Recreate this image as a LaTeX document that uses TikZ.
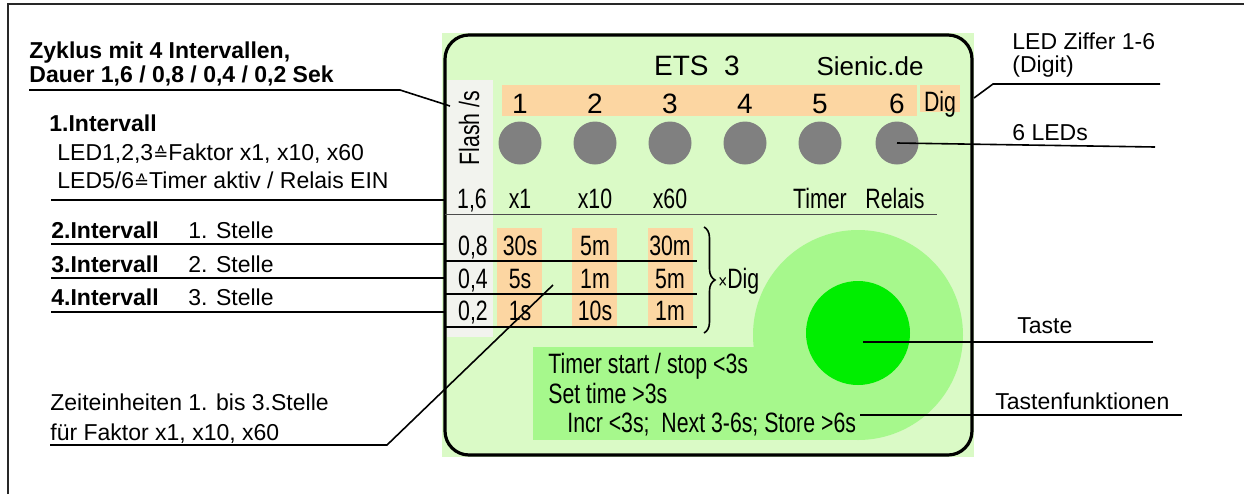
\documentclass[tikz,border=0pt]{standalone}
\usepackage{fontspec}
\setmainfont{Liberation Sans}
\newfontfamily\narrow[FakeStretch=0.76]{Liberation Sans}
\newfontfamily\dejavu{DejaVu Sans}
\usetikzlibrary{decorations.pathreplacing}
\definecolor{panelbg}{RGB}{218,250,198}
\definecolor{flashbg}{RGB}{242,243,238}
\definecolor{peach}{RGB}{252,214,162}
\definecolor{ledgray}{RGB}{128,128,128}
\definecolor{bigc}{RGB}{166,248,140}
\definecolor{btn}{RGB}{0,238,0}
\definecolor{frame}{RGB}{40,40,40}
\begin{document}
\begin{tikzpicture}[x=0.5pt,y=-0.5pt,
  outer/.style={font=\fontsize{11.5}{14}\selectfont, anchor=base west, inner sep=0pt},
  outerb/.style={outer, font=\fontsize{11.5}{14}\selectfont\bfseries},
  inner/.style={font=\narrow\fontsize{14}{16}\selectfont, anchor=base, inner sep=0pt},
  innerw/.style={inner, anchor=base west},
  head/.style={font=\fontsize{14}{16}\selectfont, anchor=base, inner sep=0pt},
  led/.style={circle, fill=ledgray, minimum size=21.5pt, inner sep=0pt},
  leader/.style={line width=0.8pt, black},
  rowline/.style={line width=0.8pt, black}]
\useasboundingbox (0,0) rectangle (1244,494);
% outer frame
\draw[line width=1pt, frame] (8,494) -- (8,4) -- (1244,4);

% ---------- panel ----------
\fill[panelbg] (442,33) rectangle (974,457);
\fill[flashbg] (447,80) rectangle (493,337);
\fill[peach] (502,85) rectangle (917,116);
\fill[peach] (920,85) rectangle (960,112);
\fill[peach] (497,228) rectangle (542,327);
\fill[peach] (572,228) rectangle (617,327);
\fill[peach] (648,228) rectangle (693,327);
\fill[bigc] (533,347) rectangle (858,440);
\fill[bigc] (858,335) circle (52.5pt);
\node[circle, fill=btn, minimum size=52pt, inner sep=0pt] (taste) at (858,333) {};
\draw[line width=1.6pt, rounded corners=12pt] (445,35) rectangle (972,455);

% header
\node[head] (ets) at (697,75) {ETS\ \ 3};
\node[head, font=\fontsize{13}{15}\selectfont] (sienic) at (870,75) {Sienic.de};
\node[inner, rotate=90, anchor=center] (flash) at (469,128) {Flash /s};
\foreach \i/\x in {1/520,2/595,3/670,4/745,5/820,6/897}{
  \node[head] (d\i) at (\x,113) {\i};
  \node[led] (led\i) at (\x,143) {};
}
\node[inner] (dig) at (940,111) {Dig};

% label row
\node[inner] (f16) at (472,208) {1,6};
\node[inner] (lx1) at (520,208) {x1};
\node[inner] (lx10) at (595,208) {x10};
\node[inner] (lx60) at (670,208) {x60};
\node[inner] (ltimer) at (820,208) {Timer};
\node[inner] (lrelais) at (895,208) {Relais};
\draw[line width=0.5pt, black!70] (445,214) -- (937,214);

% table
\node[inner] (f08) at (473,255) {0,8};
\node[inner] at (520,255) {30s};
\node[inner] at (595,255) {5m};
\node[inner] at (670,255) {30m};
\node[inner] (f04) at (473,288) {0,4};
\node[inner] at (520,288) {5s};
\node[inner] (c1m) at (595,288) {1m};
\node[inner] at (670,288) {5m};
\node[inner] (f02) at (473,320) {0,2};
\node[inner] at (520,320) {1s};
\node[inner] at (595,320) {10s};
\node[inner] at (670,320) {1m};
\draw[rowline] (445,261) -- (697,261);
\draw[rowline] (445,294) -- (697,294);
\draw[rowline] (445,327) -- (697,327);
\draw[decorate, decoration={brace, amplitude=5.5pt}, line width=0.8pt] (704,227) -- (704,333);
\node[innerw] (xdig) at (718,288) {{\fontsize{10}{10}\selectfont\texttimes}Dig};

% key functions
\node[innerw] (kf1) at (548,373) {Timer start / stop <3s};
\node[innerw] (kf2) at (548,403) {Set time >3s};
\node[innerw] (kf3) at (567,432) {Incr <3s;\ \ Next 3-6s; Store >6s};

% ---------- left annotations ----------
\node[outerb] (zyk1) at (29,58) {Zyklus mit 4 Intervallen,};
\node[outerb] (zyk2) at (29,82) {Dauer 1,6 / 0,8 / 0,4 / 0,2 Sek};
\node[outerb] (int1) at (49,131) {1.Intervall};
\node[outer] (int1a) at (57,160) {LED1,2,3{\dejavu\fontsize{9}{10}\selectfont ≙}Faktor x1, x10, x60};
\node[outer] (int1b) at (57,188) {LED5/6{\dejavu\fontsize{9}{10}\selectfont ≙}Timer aktiv / Relais EIN};
\node[outerb] (int2) at (51,238) {2.Intervall};
\node[outer] (st1) at (188,238) {1. Stelle};
\node[outerb] (int3) at (51,272) {3.Intervall};
\node[outer] (st2) at (188,272) {2. Stelle};
\node[outerb] (int4) at (51,305) {4.Intervall};
\node[outer] (st3) at (188,305) {3. Stelle};
\node[outer] (zeit1) at (50,410) {Zeiteinheiten 1. bis 3.Stelle};
\node[outer] (zeit2) at (50,440) {für Faktor x1, x10, x60};

% ---------- right annotations ----------
\node[outer] (ziff1) at (1012,49) {LED Ziffer 1-6};
\node[outer] (ziff2) at (1012,72) {(Digit)};
\node[outer] (leds) at (1012,140) {6 LEDs};
\node[outer] (tastel) at (1017,333) {Taste};
\node[outer] (tfun) at (995,409) {Tastenfunktionen};

% ---------- leaders ----------
\coordinate (a1) at (29,90);  \coordinate (a2) at (400,90);  \coordinate (a3) at (450,106);
\draw[leader] (a1) -- (a2) -- (a3);
\coordinate (b1) at (51,200); \coordinate (b2) at (445,200);
\draw[leader] (b1) -- (b2);
\coordinate (c1) at (51,244); \coordinate (c2) at (445,244);
\draw[leader] (c1) -- (c2);
\coordinate (e1) at (51,278); \coordinate (e2) at (445,278);
\draw[leader] (e1) -- (e2);
\coordinate (g1) at (51,312); \coordinate (g2) at (445,312);
\draw[leader] (g1) -- (g2);
\coordinate (h1) at (50,445); \coordinate (h2) at (387,445); \coordinate (h3) at (553,285);
\draw[leader] (h1) -- (h2) -- (h3);
\coordinate (i1) at (1160,84); \coordinate (i2) at (993,84); \coordinate (i3) at (974,98);
\draw[leader] (i1) -- (i2) -- (i3);
\coordinate (j1) at (1155,147);
\draw[leader] (j1) -- (led6.center);
\coordinate (k1) at (1153,342); \coordinate (k2) at (863,342);
\draw[leader] (k1) -- (k2);
\coordinate (m1) at (1182,415); \coordinate (m2) at (860,415);
\draw[leader] (m1) -- (m2);
\end{tikzpicture}
\end{document}
